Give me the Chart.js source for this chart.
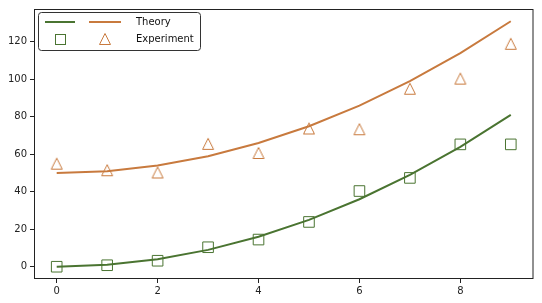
<!DOCTYPE html>
<html>
<head>
<meta charset="utf-8">
<script src="https://cdn.jsdelivr.net/npm/chart.js@4/dist/chart.umd.min.js"></script>
<style>
  html, body { margin: 0; padding: 0; background: #fff; }
  #wrap { width: 542px; height: 303px; }
</style>
</head>
<body>
<div id="wrap"><canvas id="chart" width="542" height="303"></canvas></div>
<script>
const xValues = [0, 1, 2, 3, 4, 5, 6, 7, 8, 9];
const theoryLow = [0, 1, 4, 9, 16, 25, 36, 49, 64, 81];
const theoryHigh = [50, 51, 54, 59, 66, 75, 86, 99, 114, 131];
const expLow = [0, 0.8, 3.2, 10.4, 14.5, 23.9, 40.4, 47.4, 65.3, 65.3];
const expHigh = [55, 51.5, 50.3, 65.6, 60.7, 73.8, 73.4, 95, 100.4, 119];
const xTicks = [0, 2, 4, 6, 8];
const yTicks = [0, 20, 40, 60, 80, 100, 120];

const GREEN = "#4a7431";
const ORANGE = "#c87a3e";
const FONT = { family: "DejaVu Sans", size: 10 };

function toPoints(ys) {
  return xValues.map((x, i) => ({ x: x, y: ys[i] }));
}

// matplotlib-like open triangle marker (bbox centred on the point)
function makeTriangle(color) {
  const c = document.createElement("canvas");
  c.width = 14;
  c.height = 14;
  const g = c.getContext("2d");
  g.strokeStyle = color;
  g.lineWidth = 1;
  g.beginPath();
  g.moveTo(7, 1.5);
  g.lineTo(12.5, 12.5);
  g.lineTo(1.5, 12.5);
  g.closePath();
  g.stroke();
  return c;
}
const triangleImg = makeTriangle(ORANGE);

const framePlugin = {
  id: "frame",
  afterDraw(chart) {
    const { ctx, chartArea: a } = chart;
    ctx.save();
    ctx.strokeStyle = "#222";
    ctx.lineWidth = 1;
    ctx.strokeRect(a.left + 0.5, a.top + 0.5, a.right - a.left - 1, a.bottom - a.top - 1);

    // legend with two handles per row
    const lx = 38.5, ly = 12.5, lw = 162, lh = 38, r = 3;
    ctx.fillStyle = "rgba(255,255,255,0.9)";
    ctx.strokeStyle = "#333";
    ctx.beginPath();
    ctx.roundRect(lx, ly, lw, lh, r);
    ctx.fill();
    ctx.stroke();

    ctx.lineWidth = 2;
    ctx.strokeStyle = GREEN;
    ctx.beginPath(); ctx.moveTo(45, 22); ctx.lineTo(75, 22); ctx.stroke();
    ctx.strokeStyle = ORANGE;
    ctx.beginPath(); ctx.moveTo(89, 22); ctx.lineTo(121, 22); ctx.stroke();

    ctx.lineWidth = 1;
    ctx.strokeStyle = GREEN;
    ctx.strokeRect(55.5, 34.5, 10, 10);
    ctx.drawImage(triangleImg, 98, 32);

    ctx.fillStyle = "#111";
    ctx.font = "10px 'DejaVu Sans'";
    ctx.textBaseline = "middle";
    ctx.fillText("Theory", 136, 22);
    ctx.fillText("Experiment", 136, 39);
    ctx.restore();
  }
};

new Chart(document.getElementById("chart").getContext("2d"), {
  type: "line",
  data: {
    datasets: [
      {
        label: "Theory",
        data: toPoints(theoryLow),
        borderColor: GREEN,
        borderWidth: 2,
        pointRadius: 0,
        tension: 0,
      },
      {
        label: "Theory",
        data: toPoints(theoryHigh),
        borderColor: ORANGE,
        borderWidth: 2,
        pointRadius: 0,
        tension: 0,
      },
      {
        label: "Experiment",
        data: toPoints(expLow),
        showLine: false,
        pointStyle: "rect",
        pointRadius: 7.5,
        pointBorderWidth: 1,
        pointBorderColor: GREEN,
        pointBackgroundColor: "rgba(0,0,0,0)",
      },
      {
        label: "Experiment",
        data: toPoints(expHigh),
        showLine: false,
        pointStyle: triangleImg,
        pointRadius: 7,
        pointBorderColor: ORANGE,
      },
    ],
  },
  options: {
    responsive: false,
    animation: false,
    layout: { padding: { top: 7, right: 5, left: 0, bottom: 0 } },
    plugins: { legend: { display: false }, tooltip: { enabled: false } },
    scales: {
      x: {
        type: "linear",
        min: -0.45,
        max: 9.45,
        afterBuildTicks: (s) => { s.ticks = xTicks.map((v) => ({ value: v })); },
        afterFit: (s) => { s.height = 24; },
        grid: { drawOnChartArea: false, drawTicks: true, tickLength: 4, color: "#222" },
        border: { display: false },
        ticks: { color: "#222", font: FONT, padding: 2, maxRotation: 0 },
      },
      y: {
        type: "linear",
        min: -6.55,
        max: 137.55,
        afterBuildTicks: (s) => { s.ticks = yTicks.map((v) => ({ value: v })); },
        afterFit: (s) => { s.width = 34; },
        grid: { drawOnChartArea: false, drawTicks: true, tickLength: 4, color: "#222" },
        border: { display: false },
        ticks: { color: "#222", font: FONT, padding: 3 },
      },
    },
  },
  plugins: [framePlugin],
});
</script>
</body>
</html>
